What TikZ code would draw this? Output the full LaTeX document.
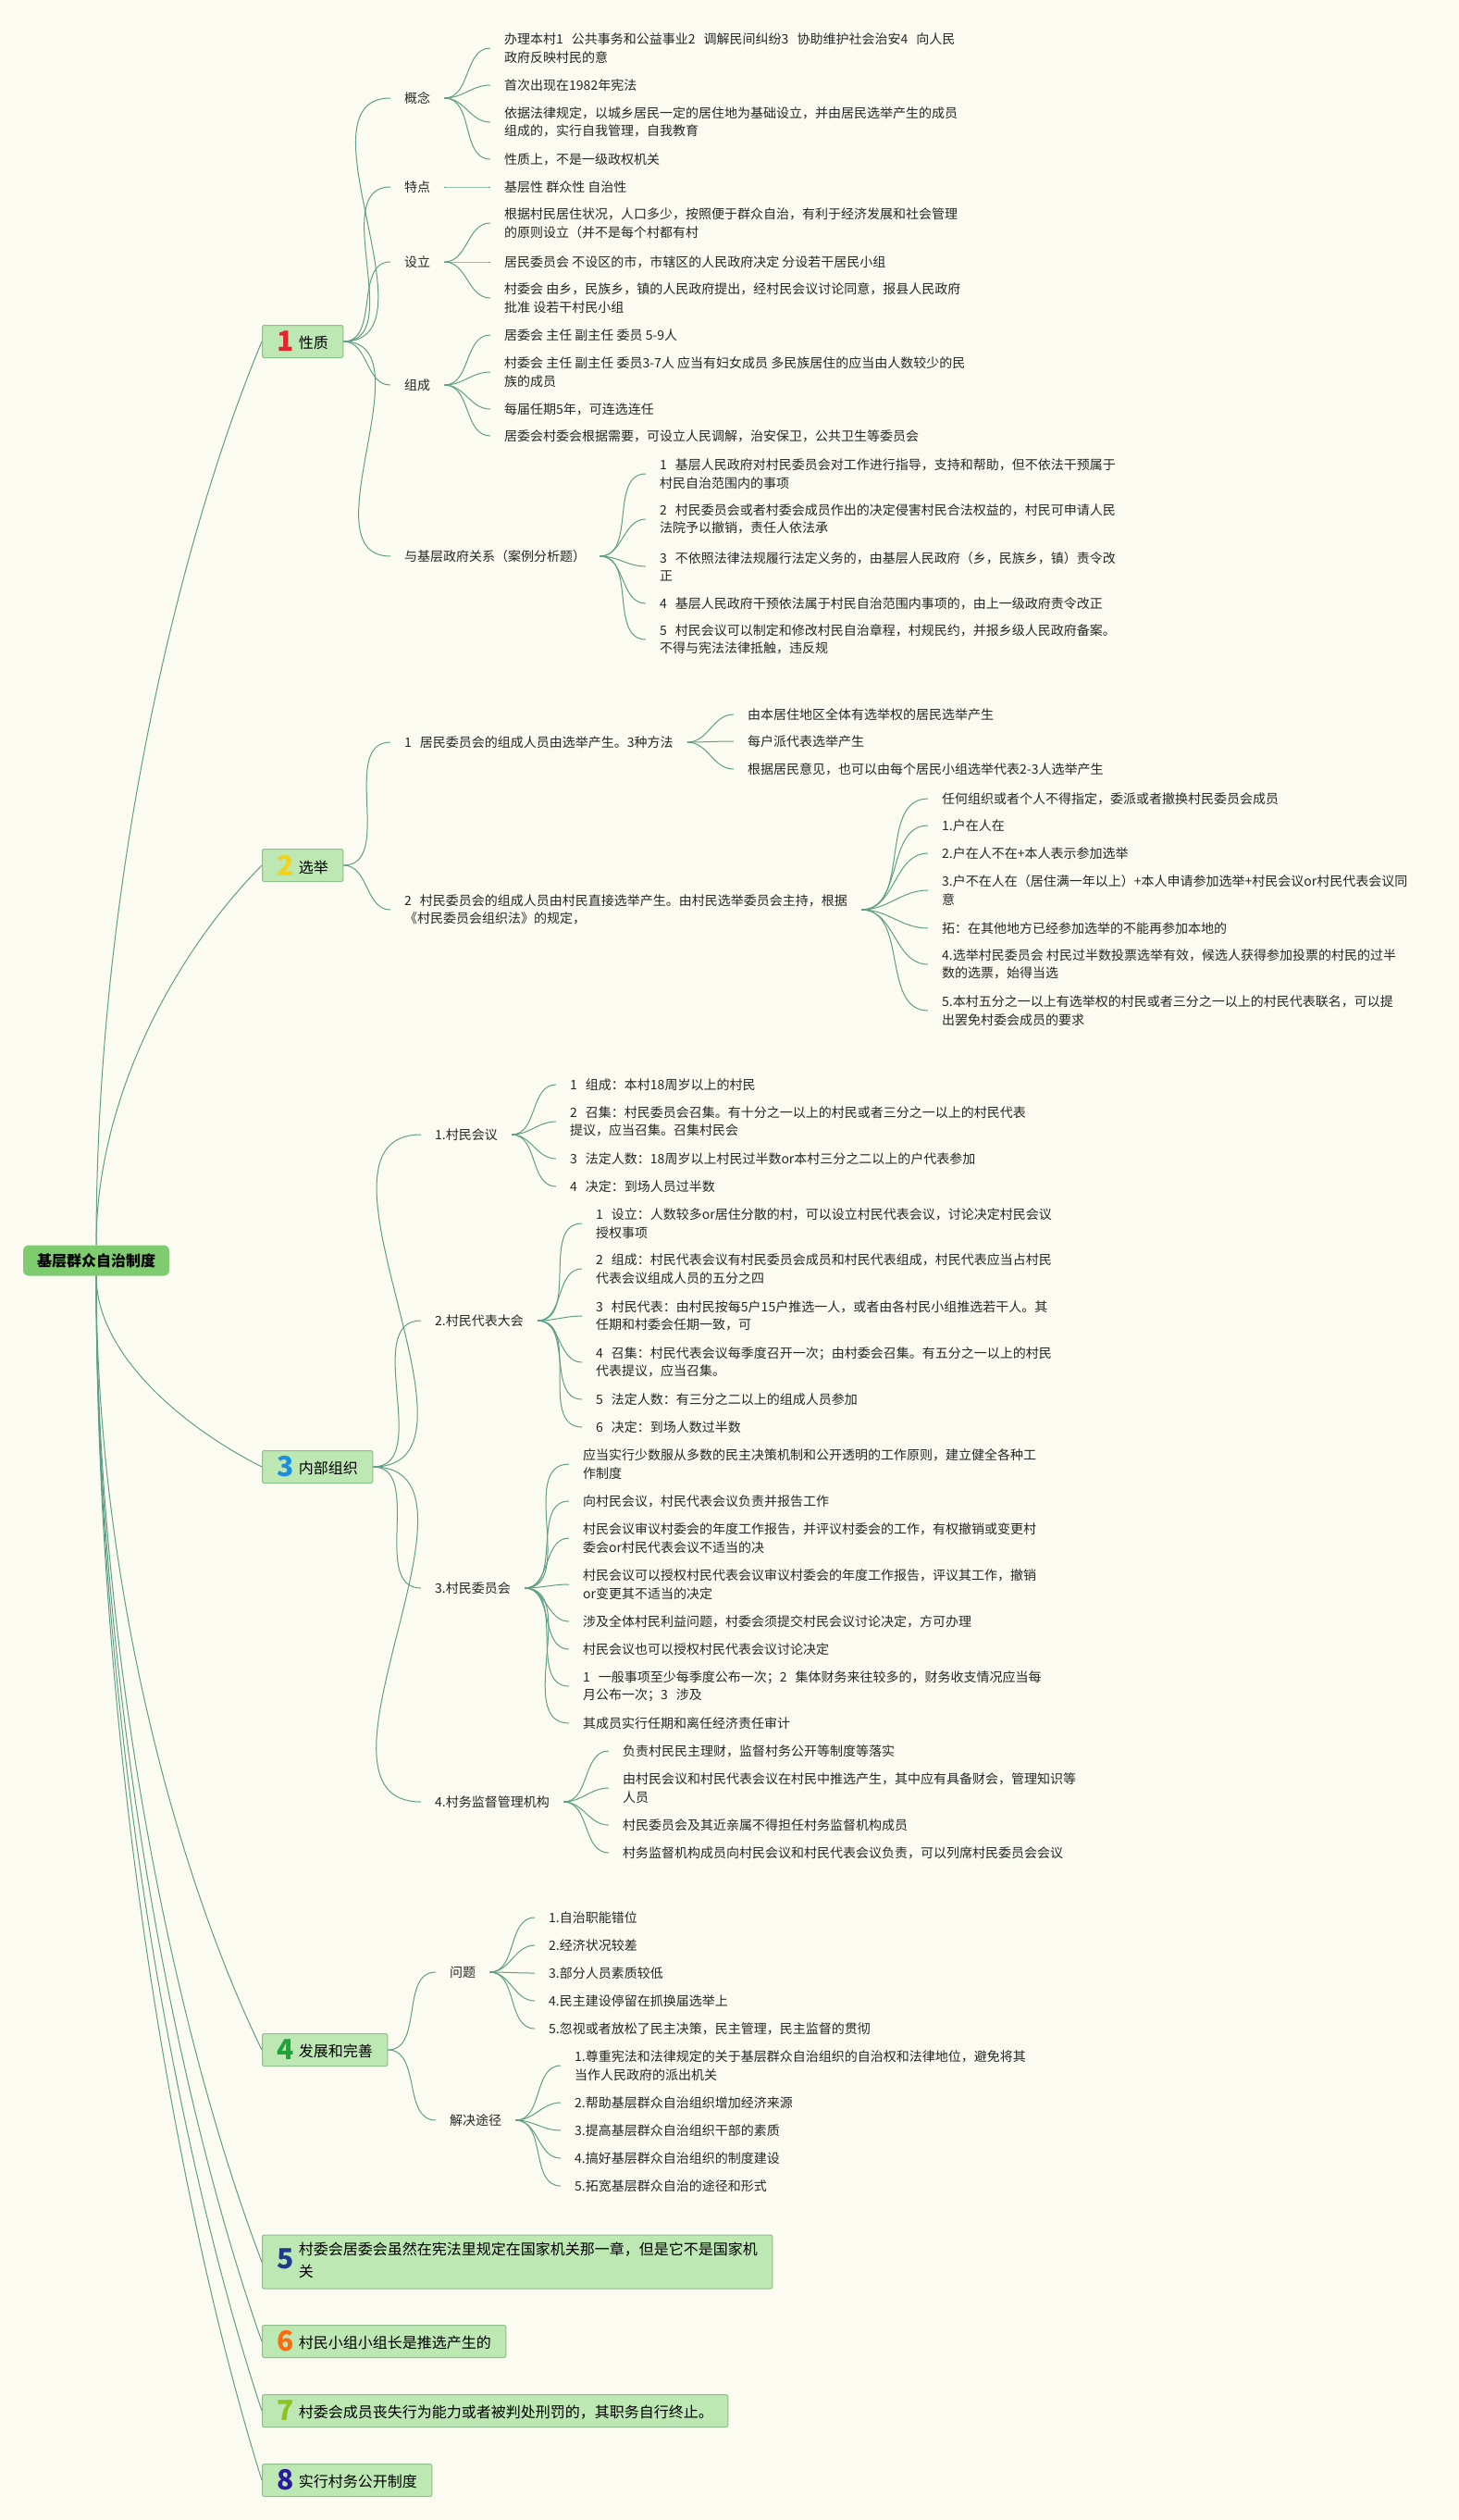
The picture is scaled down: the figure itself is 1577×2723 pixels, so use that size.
\documentclass[tikz,border=0pt]{standalone}
\usepackage{fontspec}
\setmainfont{Noto Sans CJK SC}
\usetikzlibrary{calc}

\definecolor{bgcol}{HTML}{FCFBF1}
\definecolor{linecol}{HTML}{5E9E88}
\definecolor{secfill}{HTML}{BDE8B4}
\definecolor{secline}{HTML}{8CBF8E}
\definecolor{rootfill}{HTML}{7ECB70}
\definecolor{numA}{HTML}{E3262B}
\definecolor{numB}{HTML}{F2D21B}
\definecolor{numC}{HTML}{1E8FE0}
\definecolor{numD}{HTML}{1FA33A}
\definecolor{numE}{HTML}{1F3A8A}
\definecolor{numF}{HTML}{FF6A10}
\definecolor{numG}{HTML}{8DC21F}
\definecolor{numH}{HTML}{2B1A9E}

\newcommand{\numgap}{\hspace{9pt}}
\newcommand{\secnum}[2]{{\fontsize{30}{30}\selectfont\bfseries\color{#1}\raisebox{-3pt}{#2}}\hspace{5pt}}

\begin{document}
\begin{tikzpicture}[
  x=1pt, y=-1pt,
  link/.style={draw=linecol, line width=1pt},
  twig/.style={link, out=0, in=180},
  trunk/.style={link, to path={let \p1=(\tikztostart), \p2=(\tikztotarget) in
      .. controls (\x1,{\y1+0.4*(\y2-\y1)}) and ({\x2-0.5*(\x2-\x1)},{\y2-0.22*(\y2-\y1)}) .. (\tikztotarget)}},
  root/.style={fill=rootfill, rounded corners=6pt, minimum height=33pt, inner xsep=15pt,
               font=\fontsize{16}{20}\selectfont\bfseries},
  sec/.style={draw=secline, fill=secfill, line width=1pt, rounded corners=2pt, anchor=west,
              minimum height=35pt, inner xsep=16pt, inner ysep=5pt, align=left,
              font=\fontsize{16}{24}\selectfont},
  txt/.style={anchor=west, align=left, inner xsep=15pt, inner ysep=2pt,
              font=\fontsize{14}{19.5}\selectfont, text=black!85}
]
  \fill[bgcol] (0,0) rectangle (1577,2723);
  \useasboundingbox (0,0) rectangle (1577,2723);

  \node[root] (root) at (104,1362) {基层群众自治制度};

  % main branches
  \node[sec] (s1) at (283,369)  {\secnum{numA}{1}性质};
  \node[sec] (s2) at (283,935)  {\secnum{numB}{2}选举};
  \node[sec] (s3) at (283,1585) {\secnum{numC}{3}内部组织};
  \node[sec] (s4) at (283,2215) {\secnum{numD}{4}发展和完善};
  \node[sec] (s5) at (283,2444) {\secnum{numE}{5}\begin{tabular}{@{}l@{}}村委会居委会虽然在宪法里规定在国家机关那一章，但是它不是国家机\\关\end{tabular}};
  \node[sec] (s6) at (283,2530) {\secnum{numF}{6}村民小组小组长是推选产生的};
  \node[sec] (s7) at (283,2605) {\secnum{numG}{7}村委会成员丧失行为能力或者被判处刑罚的，其职务自行终止。};
  \node[sec] (s8) at (283,2680) {\secnum{numH}{8}实行村务公开制度};

  \foreach \s in {s1,s2} \draw[trunk] (root.north) to (\s.west);
  \foreach \s in {s3,s4,s5,s6,s7,s8} \draw[trunk] (root.south) to (\s.west);

  % 1 性质
  \node[txt] (concept) at (422,106) {概念};
  \node[txt] (trait)   at (422,202) {特点};
  \node[txt] (setup)   at (422,283) {设立};
  \node[txt] (form)    at (422,416) {组成};
  \node[txt] (gov)     at (422,601) {与基层政府关系（案例分析题）};

  \node[txt] (concept1) at (530,52)  {办理本村1\numgap 公共事务和公益事业2\numgap 调解民间纠纷3\numgap 协助维护社会治安4\numgap 向人民\\政府反映村民的意};
  \node[txt] (concept2) at (530,92)  {首次出现在1982年宪法};
  \node[txt] (concept3) at (530,132) {依据法律规定，以城乡居民一定的居住地为基础设立，并由居民选举产生的成员\\组成的，实行自我管理，自我教育};
  \node[txt] (concept4) at (530,172) {性质上，不是一级政权机关};
  \node[txt] (trait1)   at (530,202) {基层性 群众性 自治性};
  \node[txt] (setup1)   at (530,241) {根据村民居住状况，人口多少，按照便于群众自治，有利于经济发展和社会管理\\的原则设立（并不是每个村都有村};
  \node[txt] (setup2)   at (530,283) {居民委员会 不设区的市，市辖区的人民政府决定 分设若干居民小组};
  \node[txt] (setup3)   at (530,322) {村委会 由乡，民族乡，镇的人民政府提出，经村民会议讨论同意，报县人民政府\\批准 设若干村民小组};
  \node[txt] (form1)    at (530,362) {居委会 主任 副主任 委员 5-9人};
  \node[txt] (form2)    at (530,402) {村委会 主任 副主任 委员3-7人 应当有妇女成员 多民族居住的应当由人数较少的民\\族的成员};
  \node[txt] (form3)    at (530,442) {每届任期5年，可连选连任};
  \node[txt] (form4)    at (530,471) {居委会村委会根据需要，可设立人民调解，治安保卫，公共卫生等委员会};
  \node[txt] (gov1) at (698,512) {1\numgap 基层人民政府对村民委员会对工作进行指导，支持和帮助，但不依法干预属于\\村民自治范围内的事项};
  \node[txt] (gov2) at (698,561) {2\numgap 村民委员会或者村委会成员作出的决定侵害村民合法权益的，村民可申请人民\\法院予以撤销，责任人依法承};
  \node[txt] (gov3) at (698,612) {3\numgap 不依照法律法规履行法定义务的，由基层人民政府（乡，民族乡，镇）责令改\\正};
  \node[txt] (gov4) at (698,652) {4\numgap 基层人民政府干预依法属于村民自治范围内事项的，由上一级政府责令改正};
  \node[txt] (gov5) at (698,691) {5\numgap 村民会议可以制定和修改村民自治章程，村规民约，并报乡级人民政府备案。\\不得与宪法法律抵触，违反规};

  \foreach \c in {concept,trait,setup,form,gov} \draw[twig] (s1.east) to (\c.west);
  \foreach \n in {1,...,4} \draw[twig] (concept.east) to (concept\n.west);
  \draw[twig] (trait.east) to (trait1.west);
  \foreach \n in {1,2,3} \draw[twig] (setup.east) to (setup\n.west);
  \foreach \n in {1,...,4} \draw[twig] (form.east) to (form\n.west);
  \foreach \n in {1,...,5} \draw[twig] (gov.east) to (gov\n.west);

  % 2 选举
  \node[txt] (elecA) at (422,802) {1\numgap 居民委员会的组成人员由选举产生。3种方法};
  \node[txt] (elecB) at (422,983) {2\numgap 村民委员会的组成人员由村民直接选举产生。由村民选举委员会主持，根据\\《村民委员会组织法》的规定，};

  \node[txt] (elecA1) at (793,772) {由本居住地区全体有选举权的居民选举产生};
  \node[txt] (elecA2) at (793,801) {每户派代表选举产生};
  \node[txt] (elecA3) at (793,831) {根据居民意见，也可以由每个居民小组选举代表2-3人选举产生};
  \node[txt] (elecB1) at (1003,863)  {任何组织或者个人不得指定，委派或者撤换村民委员会成员};
  \node[txt] (elecB2) at (1003,892)  {1.户在人在};
  \node[txt] (elecB3) at (1003,922)  {2.户在人不在+本人表示参加选举};
  \node[txt] (elecB4) at (1003,962)  {3.户不在人在（居住满一年以上）+本人申请参加选举+村民会议or村民代表会议同\\意};
  \node[txt] (elecB5) at (1003,1003) {拓：在其他地方已经参加选举的不能再参加本地的};
  \node[txt] (elecB6) at (1003,1042) {4.选举村民委员会 村民过半数投票选举有效，候选人获得参加投票的村民的过半\\数的选票，始得当选};
  \node[txt] (elecB7) at (1003,1092) {5.本村五分之一以上有选举权的村民或者三分之一以上的村民代表联名，可以提\\出罢免村委会成员的要求};

  \foreach \c in {elecA,elecB} \draw[twig] (s2.east) to (\c.west);
  \foreach \n in {1,2,3} \draw[twig] (elecA.east) to (elecA\n.west);
  \foreach \n in {1,...,7} \draw[twig] (elecB.east) to (elecB\n.west);

  % 3 内部组织
  \node[txt] (mtg)   at (455,1226) {1.村民会议};
  \node[txt] (rep)   at (455,1427) {2.村民代表大会};
  \node[txt] (cmt)   at (455,1716) {3.村民委员会};
  \node[txt] (watch) at (455,1947) {4.村务监督管理机构};

  \node[txt] (mtg1) at (601,1172) {1\numgap 组成：本村18周岁以上的村民};
  \node[txt] (mtg2) at (601,1212) {2\numgap 召集：村民委员会召集。有十分之一以上的村民或者三分之一以上的村民代表\\提议，应当召集。召集村民会};
  \node[txt] (mtg3) at (601,1252) {3\numgap 法定人数：18周岁以上村民过半数or本村三分之二以上的户代表参加};
  \node[txt] (mtg4) at (601,1282) {4\numgap 决定：到场人员过半数};

  \node[txt] (rep1) at (629,1322) {1\numgap 设立：人数较多or居住分散的村，可以设立村民代表会议，讨论决定村民会议\\授权事项};
  \node[txt] (rep2) at (629,1371) {2\numgap 组成：村民代表会议有村民委员会成员和村民代表组成，村民代表应当占村民\\代表会议组成人员的五分之四};
  \node[txt] (rep3) at (629,1422) {3\numgap 村民代表：由村民按每5户15户推选一人，或者由各村民小组推选若干人。其\\任期和村委会任期一致，可};
  \node[txt] (rep4) at (629,1472) {4\numgap 召集：村民代表会议每季度召开一次；由村委会召集。有五分之一以上的村民\\代表提议，应当召集。};
  \node[txt] (rep5) at (629,1512) {5\numgap 法定人数：有三分之二以上的组成人员参加};
  \node[txt] (rep6) at (629,1542) {6\numgap 决定：到场人数过半数};

  \node[txt] (cmt1) at (615,1582) {应当实行少数服从多数的民主决策机制和公开透明的工作原则，建立健全各种工\\作制度};
  \node[txt] (cmt2) at (615,1622) {向村民会议，村民代表会议负责并报告工作};
  \node[txt] (cmt3) at (615,1662) {村民会议审议村委会的年度工作报告，并评议村委会的工作，有权撤销或变更村\\委会or村民代表会议不适当的决};
  \node[txt] (cmt4) at (615,1712) {村民会议可以授权村民代表会议审议村委会的年度工作报告，评议其工作，撤销\\or变更其不适当的决定};
  \node[txt] (cmt5) at (615,1752) {涉及全体村民利益问题，村委会须提交村民会议讨论决定，方可办理};
  \node[txt] (cmt6) at (615,1782) {村民会议也可以授权村民代表会议讨论决定};
  \node[txt] (cmt7) at (615,1822) {1\numgap 一般事项至少每季度公布一次；2\numgap 集体财务来往较多的，财务收支情况应当每\\月公布一次；3\numgap 涉及};
  \node[txt] (cmt8) at (615,1862) {其成员实行任期和离任经济责任审计};

  \node[txt] (watch1) at (658,1892) {负责村民民主理财，监督村务公开等制度等落实};
  \node[txt] (watch2) at (658,1932) {由村民会议和村民代表会议在村民中推选产生，其中应有具备财会，管理知识等\\人员};
  \node[txt] (watch3) at (658,1972) {村民委员会及其近亲属不得担任村务监督机构成员};
  \node[txt] (watch4) at (658,2002) {村务监督机构成员向村民会议和村民代表会议负责，可以列席村民委员会会议};

  \foreach \c in {mtg,rep,cmt,watch} \draw[twig] (s3.east) to (\c.west);
  \foreach \n in {1,...,4} \draw[twig] (mtg.east) to (mtg\n.west);
  \foreach \n in {1,...,6} \draw[twig] (rep.east) to (rep\n.west);
  \foreach \n in {1,...,8} \draw[twig] (cmt.east) to (cmt\n.west);
  \foreach \n in {1,...,4} \draw[twig] (watch.east) to (watch\n.west);

  % 4 发展和完善
  \node[txt] (prob) at (471,2131) {问题};
  \node[txt] (sol)  at (471,2291) {解决途径};

  \node[txt] (prob1) at (578,2072) {1.自治职能错位};
  \node[txt] (prob2) at (578,2102) {2.经济状况较差};
  \node[txt] (prob3) at (578,2132) {3.部分人员素质较低};
  \node[txt] (prob4) at (578,2162) {4.民主建设停留在抓换届选举上};
  \node[txt] (prob5) at (578,2192) {5.忽视或者放松了民主决策，民主管理，民主监督的贯彻};

  \node[txt] (sol1) at (606,2232) {1.尊重宪法和法律规定的关于基层群众自治组织的自治权和法律地位，避免将其\\当作人民政府的派出机关};
  \node[txt] (sol2) at (606,2272) {2.帮助基层群众自治组织增加经济来源};
  \node[txt] (sol3) at (606,2302) {3.提高基层群众自治组织干部的素质};
  \node[txt] (sol4) at (606,2332) {4.搞好基层群众自治组织的制度建设};
  \node[txt] (sol5) at (606,2362) {5.拓宽基层群众自治的途径和形式};

  \foreach \c in {prob,sol} \draw[twig] (s4.east) to (\c.west);
  \foreach \n in {1,...,5} \draw[twig] (prob.east) to (prob\n.west);
  \foreach \n in {1,...,5} \draw[twig] (sol.east) to (sol\n.west);
\end{tikzpicture}
\end{document}
